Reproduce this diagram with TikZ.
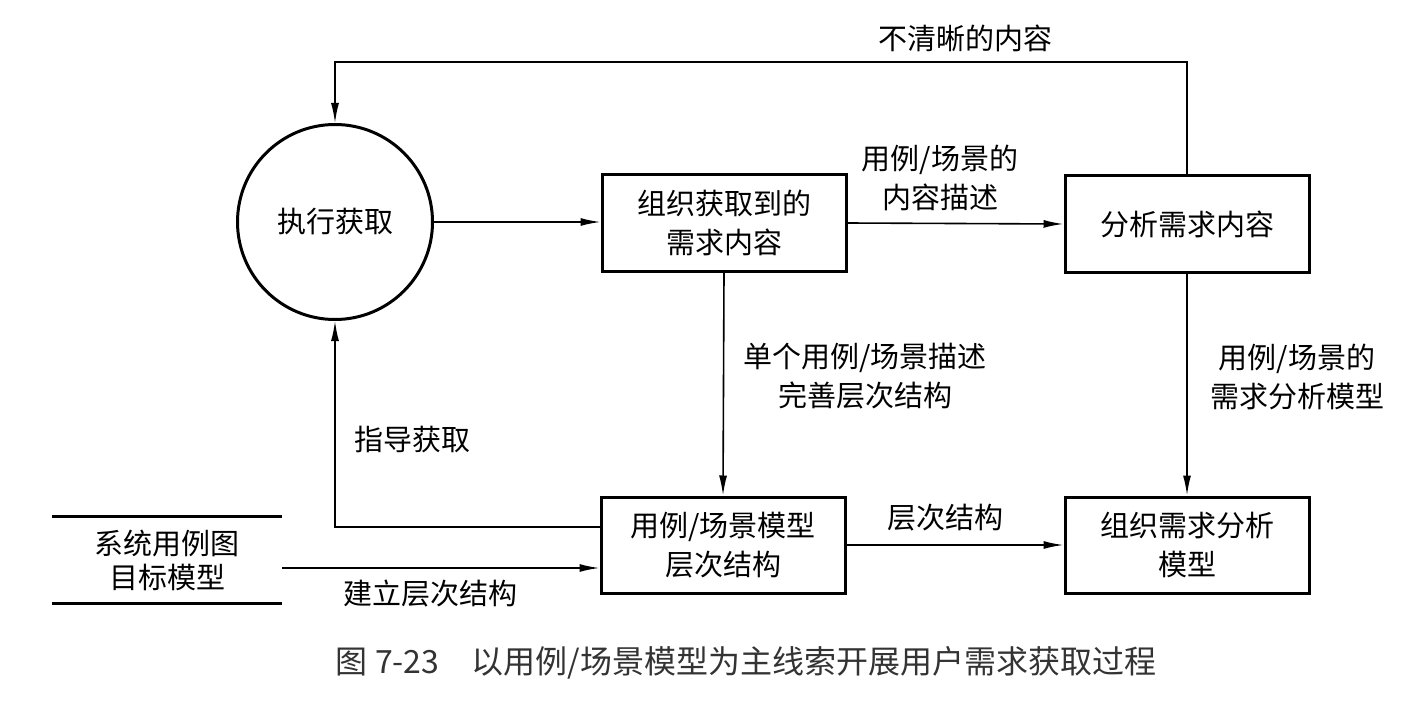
\documentclass[tikz,border=0pt]{standalone}
\usepackage{fontspec}
\setmainfont{Noto Sans CJK SC}
\usetikzlibrary{arrows.meta}
\begin{document}
\begin{tikzpicture}[x=1pt,y=-1pt,
  txt/.style={align=center, inner sep=0pt, font=\fontsize{29}{39}\selectfont},
  box/.style={txt, draw, line width=3pt, minimum width=244pt, minimum height=96pt},
  conn/.style={line width=1.6pt, -{Latex[length=20pt,width=8pt]}}]
\useasboundingbox (0,0) rectangle (1413,714);
\node[txt, circle, draw, line width=3pt, minimum size=195pt] (c) at (335,222) {执行获取};
\node[box] (b1) at (724,223) {组织获取到的\\需求内容};
\node[box] (b2) at (1187,224) {分析需求内容};
\node[box] (b3) at (723,545) {用例/场景模型\\层次结构};
\node[box] (b4) at (1187,545) {组织需求分析\\模型};
\node[txt, font=\fontsize{29}{34}\selectfont, minimum width=230pt, minimum height=86pt] (ds) at (167,560) {系统用例图\\目标模型};
\draw[line width=3pt] (ds.north west) -- (ds.north east);
\draw[line width=3pt] (ds.south west) -- (ds.south east);
\coordinate (top) at (700,62);
\coordinate (dsout) at ([yshift=-8pt]ds.east);
\coordinate (b3out) at ([yshift=18pt]b3.west);
\draw[conn] (c.east) -- (c.east -| b1.west);
\draw[conn] (b1.east) -- (b2.west);
\draw[conn] (b1.south) -- (b3.north);
\draw[conn] (b2.south) -- (b4.north);
\draw[conn] (b3.east) -- (b4.west);
\draw[conn] (b2.north) |- (top) -| (c.north);
\draw[conn] (b3out) -| (c.south);
\draw[conn] (dsout) -- (dsout -| b3.west);
\node[txt] (l1) at (965,38) {不清晰的内容};
\node[txt] (l2) at (940,178) {用例/场景的\\内容描述};
\node[txt] (l3) at (865,376) {单个用例/场景描述\\完善层次结构};
\node[txt] (l4) at (1297,377) {用例/场景的\\需求分析模型};
\node[txt] (l5) at (412,440) {指导获取};
\node[txt] (l6) at (945,518) {层次结构};
\node[txt] (l7) at (430,594) {建立层次结构};
\node[txt, font=\fontsize{32}{36}\selectfont, text=black!80] (cap) at (746,663) {图 7-23\quad 以用例/场景模型为主线索开展用户需求获取过程};
\end{tikzpicture}
\end{document}
